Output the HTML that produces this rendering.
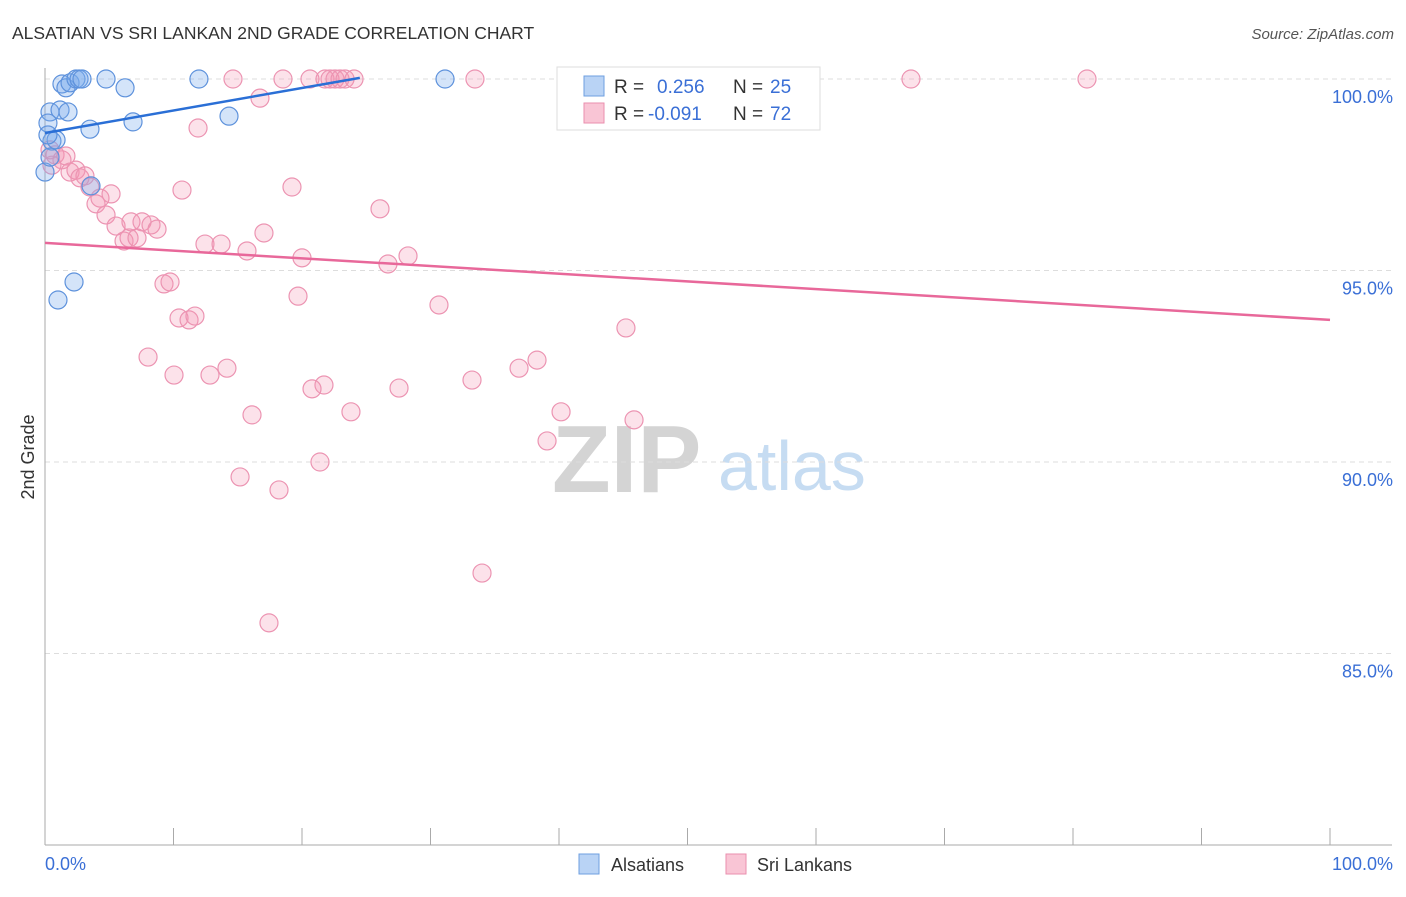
<!DOCTYPE html>
<html><head><meta charset="utf-8"><style>
body{margin:0;background:#fff;font-family:"Liberation Sans",sans-serif}
svg text{font-family:"Liberation Sans",sans-serif}
</style></head><body>
<svg id="chart" width="1406" height="892" viewBox="0 0 1406 892" xmlns="http://www.w3.org/2000/svg">
<text x="12" y="39" font-size="17.5" fill="#333">ALSATIAN VS SRI LANKAN 2ND GRADE CORRELATION CHART</text>
<text x="1394" y="39" font-size="15" fill="#555" text-anchor="end" font-style="italic">Source: ZipAtlas.com</text>
<text x="552" y="492" font-size="96" fill="#d4d4d4" font-family="Liberation Serif" font-weight="bold">ZIP</text>
<text x="718" y="490" font-size="70" fill="#c6dcf2">atlas</text>
<g id="grid"></g>
<g id="axes"></g>
<g id="marks"></g>
<g>
<rect x="557" y="67" width="263" height="63" fill="#fff" stroke="#ddd"/>
<rect x="584" y="76" width="20" height="20" fill="#b9d3f5" stroke="#6e9fe0"/>
<rect x="584" y="103" width="20" height="20" fill="#f9c5d5" stroke="#ea8fae"/>
<text x="614" y="93" font-size="19" fill="#333">R =</text>
<text x="657" y="93" font-size="19" fill="#3a6fd6">0.256</text>
<text x="733" y="93" font-size="19" fill="#333">N =</text>
<text x="770" y="93" font-size="19" fill="#3a6fd6">25</text>
<text x="614" y="120" font-size="19" fill="#333">R =</text>
<text x="648" y="120" font-size="19" fill="#3a6fd6">-0.091</text>
<text x="733" y="120" font-size="19" fill="#333">N =</text>
<text x="770" y="120" font-size="19" fill="#3a6fd6">72</text>
</g>
<g>
<rect x="579" y="854" width="20" height="20" fill="#b9d3f5" stroke="#6e9fe0"/>
<text x="611" y="871" font-size="18" fill="#333">Alsatians</text>
<rect x="726" y="854" width="20" height="20" fill="#f9c5d5" stroke="#ea8fae"/>
<text x="757" y="871" font-size="18" fill="#333">Sri Lankans</text>
</g>
<text transform="translate(34,457) rotate(-90)" font-size="18" fill="#333" text-anchor="middle">2nd Grade</text>
</svg>
<script>
const yTicks=[100,95,90,85];
const yTickLabels=["100.0%","95.0%","90.0%","85.0%"];
const xTickLabels=["0.0%","100.0%"];
const blueX=[0,0.39,0.54,0.86,1.01,1.17,1.32,1.63,1.79,1.95,2.26,2.41,2.65,2.88,3.50,3.58,4.75,6.23,6.85,11.98,14.32,31.13,0.23,0.39,0.23];
const blueY=[97.57,99.14,98.38,98.41,94.23,99.19,99.87,99.77,99.14,99.90,94.70,100,100,100,98.69,97.21,100,99.77,98.88,100,99.03,100,98.85,97.96,98.54];
const pinkX=[14.63,18.52,20.62,21.79,22.18,22.57,22.96,23.35,24.05,33.46,41.40,67.39,81.09,16.73,11.91,0.39,0.78,1.32,1.63,0.54,1.95,2.41,2.72,3.11,3.50,3.97,4.28,5.14,4.75,5.53,6.69,7.55,8.25,8.72,6.15,6.54,7.16,10.66,19.22,26.07,17.04,12.45,13.70,15.72,20.00,26.69,28.25,9.26,9.73,19.69,30.66,10.43,11.21,11.67,45.21,8.02,38.29,36.89,14.16,10.04,12.84,33.23,21.71,20.78,27.55,16.11,23.81,40.16,45.84,39.07,21.40,15.18,18.21,34.01,17.43];
const pinkY=[100,100,100,100,100,100,100,100,100,100,100,100,100,99.50,98.72,98.15,98.02,97.89,97.99,97.75,97.57,97.62,97.42,97.47,97.18,96.74,96.89,97.00,96.45,96.16,96.27,96.27,96.19,96.08,95.77,95.85,95.85,97.10,97.18,96.61,95.98,95.69,95.69,95.51,95.33,95.17,95.38,94.65,94.70,94.33,94.10,93.76,93.71,93.81,93.50,92.74,92.66,92.45,92.45,92.27,92.27,92.14,92.01,91.91,91.93,91.23,91.31,91.31,91.10,90.55,90.00,89.61,89.27,87.10,85.80];
const blueTrendX=[0,24.5];
const blueTrendY=[98.59,100.03];
const pinkTrendX=[0,100];
const pinkTrendY=[95.72,93.71];

const NS="http://www.w3.org/2000/svg";
const X0=45,X1=1330,Y100=79,PXPER=38.3;
const sx=v=>X0+(X1-X0)*v/100;
const sy=v=>Y100+(100-v)*PXPER;
function mk(tag,attrs,parent){const e=document.createElementNS(NS,tag);for(const k in attrs)e.setAttribute(k,attrs[k]);parent.appendChild(e);return e;}
const grid=document.getElementById('grid'),axes=document.getElementById('axes'),marks=document.getElementById('marks');
yTicks.forEach((t,i)=>{
  const l=mk('line',{x1:X0,x2:1392,y1:sy(t),y2:sy(t),stroke:'#ddd','stroke-dasharray':'5,4'},grid);
  
  
  const tx=mk('text',{x:1393,y:sy(t)+24,'font-size':18,fill:'#3a6fd6','text-anchor':'end'},axes);
  tx.textContent=yTickLabels[i];
  
  
});
const ya=mk('line',{x1:X0,x2:X0,y1:68,y2:845,stroke:'#aaa'},axes);


const xa=mk('line',{x1:X0,x2:1392,y1:845,y2:845,stroke:'#aaa'},axes);


for(let i=1;i<=10;i++){
  const t=mk('line',{x1:sx(i*10),x2:sx(i*10),y1:828,y2:845,stroke:'#aaa'},axes);
  
  
}
const xl0=mk('text',{x:45,y:870,'font-size':18,fill:'#3a6fd6'},axes);
xl0.textContent=xTickLabels[0];


const xl1=mk('text',{x:1393,y:870,'font-size':18,fill:'#3a6fd6','text-anchor':'end'},axes);
xl1.textContent=xTickLabels[1];


pinkX.forEach((v,i)=>{
  const c=mk('circle',{cx:sx(v),cy:sy(pinkY[i]),r:9,fill:'rgba(245,150,180,0.28)',stroke:'#ec94b2','stroke-width':1.2},marks);
  
  
});
blueX.forEach((v,i)=>{
  const c=mk('circle',{cx:sx(v),cy:sy(blueY[i]),r:9,fill:'rgba(120,170,235,0.32)',stroke:'#5e92dc','stroke-width':1.2},marks);
  
  
});
const bt=mk('line',{x1:sx(blueTrendX[0]),y1:sy(blueTrendY[0]),x2:sx(blueTrendX[1]),y2:sy(blueTrendY[1]),stroke:'#2a6fd6','stroke-width':2.5},marks);


const pt=mk('line',{x1:sx(pinkTrendX[0]),y1:sy(pinkTrendY[0]),x2:sx(pinkTrendX[1]),y2:sy(pinkTrendY[1]),stroke:'#e8689a','stroke-width':2.5},marks);


</script>
</body></html>
